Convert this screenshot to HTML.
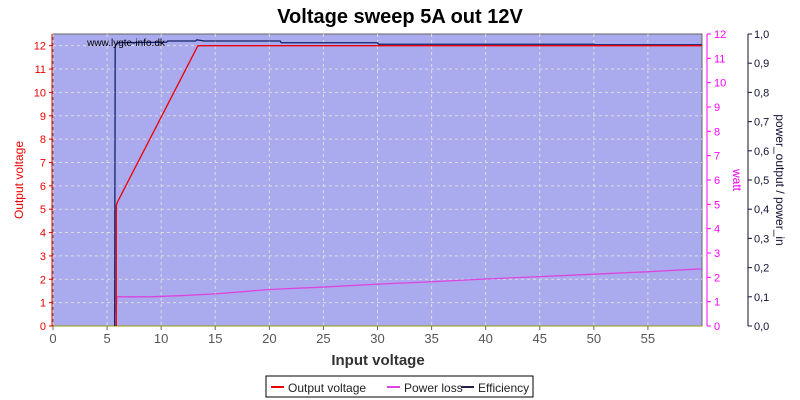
<!DOCTYPE html>
<html><head><meta charset="utf-8"><style>
body{margin:0;background:#fff;}
svg{font-family:"Liberation Sans",sans-serif;display:block}
</style></head><body>
<svg id="chart" width="800" height="400">
<text x="400" y="23" text-anchor="middle" font-size="20" font-weight="bold" fill="#000">Voltage sweep 5A out 12V</text>
<rect x="53" y="34" width="649" height="292" fill="#aaaaee" stroke="#666"/>
<g id="grid"></g>
<g id="axes"></g>
<g id="series"></g>
<text x="126" y="46" text-anchor="middle" font-size="10" fill="#000">www.lygte-info.dk</text>
<text x="378" y="365" text-anchor="middle" font-size="15" font-weight="bold" fill="#333">Input voltage</text>
<text transform="translate(23,180) rotate(-90)" text-anchor="middle" font-size="12" fill="#e00">Output voltage</text>
<text transform="translate(733,180) rotate(90)" text-anchor="middle" font-size="12" fill="#e0e">watt</text>
<text transform="translate(776,180) rotate(90)" text-anchor="middle" font-size="12" fill="#113">power_output / power_in</text>
<g>
<rect x="266" y="376" width="267" height="21" fill="#fff" stroke="#000"/>
<line x1="271" y1="387" x2="284" y2="387" stroke="#e00" stroke-width="2"/>
<text x="288" y="392" font-size="12" fill="#222">Output voltage</text>
<line x1="387" y1="387" x2="400" y2="387" stroke="#d4d" stroke-width="2"/>
<text x="404" y="392" font-size="12" fill="#222">Power loss</text>
<line x1="461" y1="387" x2="474" y2="387" stroke="#224" stroke-width="2"/>
<text x="478" y="392" font-size="12" fill="#222">Efficiency</text>
</g>
</svg>
<script>
const xTicks=[0,5,10,15,20,25,30,35,40,45,50,55];
const yTicksLeft=[0,1,2,3,4,5,6,7,8,9,10,11,12];
const yTicksWatt=[0,1,2,3,4,5,6,7,8,9,10,11,12];
const yTicksEff=["0,0","0,1","0,2","0,3","0,4","0,5","0,6","0,7","0,8","0,9","1,0"];
const voltX=[5.85,5.85,5.95,13.4,60];
const voltY=[0,5.15,5.3,12,12];
const lossX=[5.8,5.9,6,9,12,15,20,25,30,35,40,45,50,55,60];
const lossY=[0.3,1.2,1.2,1.2,1.25,1.32,1.5,1.6,1.72,1.82,1.93,2.03,2.13,2.23,2.35];
const effX=[5.7,5.75,6,10.5,10.6,13.2,13.3,14,21,21.1,30,30.1,50,50.1,60];
const effY=[0,0.96,0.97,0.972,0.976,0.976,0.98,0.976,0.976,0.97,0.97,0.965,0.965,0.963,0.963];
const L=53,R=702,T=34,B=326,XMAX=60;
const sx=v=>L+v/XMAX*(R-L);
const syL=v=>B-v/12.5*(B-T);
const syW=v=>B-v/12*(B-T);
const syE=v=>B-v*(B-T);
const NS="http://www.w3.org/2000/svg";
function mk(t,a,p){const e=document.createElementNS(NS,t);for(const k in a)e.setAttribute(k,a[k]);p.appendChild(e);return e;}
const grid=document.getElementById('grid'),axes=document.getElementById('axes'),ser=document.getElementById('series');
xTicks.forEach(v=>{
 const g=mk('line',{x1:sx(v),x2:sx(v),y1:T,y2:B,stroke:'#ddd','stroke-dasharray':'3,3'},grid);
 
 mk('line',{x1:sx(v),x2:sx(v),y1:B,y2:B+4,stroke:'#666'},axes);
 const t=mk('text',{x:sx(v),y:B+17,'text-anchor':'middle','font-size':13,fill:'#555'},axes);t.textContent=v;
 
});
yTicksLeft.forEach(v=>{
 if(v>0){const g=mk('line',{x1:L,x2:R,y1:syL(v),y2:syL(v),stroke:'#ddd','stroke-dasharray':'3,3'},grid);
 }
 mk('line',{x1:L-4,x2:L,y1:syL(v),y2:syL(v),stroke:'#e00'},axes);
 const t=mk('text',{x:L-7,y:syL(v)+4,'text-anchor':'end','font-size':11,fill:'#e00'},axes);t.textContent=v;
 
});
mk('line',{x1:L-1,x2:L-1,y1:T,y2:B,stroke:'#e00'},axes);
mk('line',{x1:707,x2:707,y1:T,y2:B,stroke:'#f0f'},axes);
yTicksWatt.forEach(v=>{
 mk('line',{x1:707,x2:711,y1:syW(v),y2:syW(v),stroke:'#f0f'},axes);
 const t=mk('text',{x:714,y:syW(v)+4,'font-size':11,fill:'#f0f'},axes);t.textContent=v;
 
});
mk('line',{x1:748,x2:748,y1:T,y2:B,stroke:'#113'},axes);
yTicksEff.forEach((s,i)=>{
 const v=i/(yTicksEff.length-1);
 mk('line',{x1:748,x2:752,y1:syE(v),y2:syE(v),stroke:'#113'},axes);
 const t=mk('text',{x:754,y:syE(v)+4,'font-size':11,fill:'#113'},axes);t.textContent=s;
 
});
mk('line',{x1:L,x2:R,y1:B,y2:B,stroke:'#990'},axes);
function poly(xs,ys,sy,col,name){
 const p=mk('polyline',{points:xs.map((x,i)=>sx(x)+','+sy(ys[i])).join(' '),fill:'none',stroke:col,'stroke-width':1.3},ser);
 
}
poly(effX,effY,syE,'#112266','efficiency-line');
poly(lossX,lossY,syW,'#dd44dd','power-loss-line');
poly(voltX,voltY,syL,'#ee0000','output-voltage-line');
</script>
</body></html>
